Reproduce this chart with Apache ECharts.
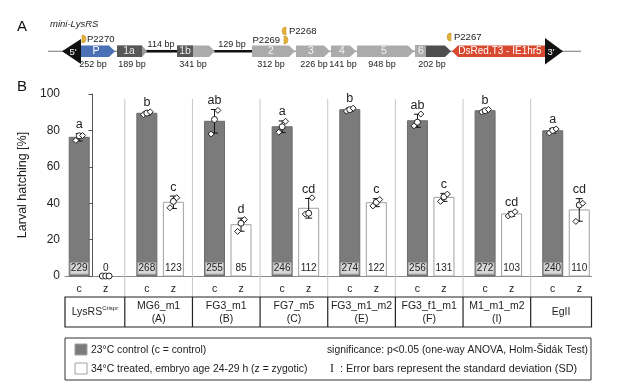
<!DOCTYPE html>
<html><head><meta charset="utf-8">
<script src="https://cdn.jsdelivr.net/npm/echarts@6/dist/echarts.min.js"></script>
<style>html,body{margin:0;padding:0;background:#fff}#c{width:624px;height:389px}</style>
</head><body><div id="c"></div>
<script>
// ---------------- data ----------------
const groups = ['LysRS', 'MG6_m1', 'FG3_m1', 'FG7_m5', 'FG3_m1_m2', 'FG3_f1_m1', 'M1_m1_m2', 'EgII'];
const groupSub = ['', '(A)', '(B)', '(C)', '(E)', '(F)', '(I)', ''];
const controlMean = [76.2, 89.4, 85.0, 82.0, 91.4, 85.3, 90.8, 79.8];
const controlSD   = [2.0, 1.0, 6.5, 3.2, 1.0, 3.6, 0.8, 1.3];
const zygoticMean = [0, 40.5, 28.2, 37.2, 40.3, 43.2, 34.1, 36.3];
const zygoticSD   = [0, 3.4, 3.6, 5.4, 2.2, 2.2, 1.3, 6.2];
const controlPoints = [[74.5, 77, 77.2], [88.6, 89.5, 90.2], [78, 86, 91], [79, 82, 85], [90.6, 91.4, 92.2], [82.5, 84.5, 89], [90.1, 90.8, 91.5], [78.6, 80, 80.8]];
const zygoticPoints = [[0, 0, 0], [37.5, 41, 43], [24.5, 29, 31], [34, 34.5, 43], [38.5, 40.5, 42], [41, 43.5, 45], [33, 34, 35.3], [30, 39, 40]];
const controlLetters = ['a', 'b', 'ab', 'a', 'b', 'ab', 'b', 'a'];
const zygoticLetters = ['', 'c', 'd', 'cd', 'c', 'c', 'cd', 'cd'];
const controlN = [229, 268, 255, 246, 274, 256, 272, 240];
const zygoticN = [0, 123, 85, 112, 122, 131, 103, 110];
const yTicks = [0, 20, 40, 60, 80, 100];
const rowLabels = ['c', 'z'];
const legendLabels = ['23°C control (c = control)', '34°C treated, embryo age 24-29 h (z = zygotic)'];

// ---------------- layout ----------------
const FONT = '"Liberation Sans", Arial, sans-serif';
const OFF = 0.196, JIT = 0.05, SEP = 0.522;
const XMIN = -0.406, XMAX = 7.377;
const symbols = ['diamond', 'circle', 'diamond'];

function txt(text, x, y, size, opt) {
  opt = opt || {};
  return { type: 'text', z: opt.z || 10, style: Object.assign({
    text: text, x: x, y: y, font: (opt.italic ? 'italic ' : '') + size + 'px ' + FONT,
    fill: opt.fill || '#222', textAlign: opt.align || 'left', align: opt.align || 'left',
    textVerticalAlign: 'middle', verticalAlign: 'middle'
  }, opt.extra || {}) };
}

function barSeries(name, means, ns, kind) {
  return {
    type: 'custom', name: name, clip: false, z: 3,
    data: means.map((m, i) => [i + (kind === 'c' ? -OFF : OFF), m, ns[i]]),
    renderItem(params, api) {
      const x = api.value(0), v = api.value(1), n = api.value(2);
      const b = api.coord([x, 0]), t = api.coord([x, v]);
      const w = 20, ch = [];
      if (v > 0) ch.push({ type: 'rect', shape: { x: b[0] - w / 2, y: t[1], width: w, height: b[1] - t[1] },
        style: { fill: kind === 'c' ? '#7b7b7b' : '#fff', stroke: kind === 'c' ? '#6c6c6c' : '#a0a0a0', lineWidth: 1 } });
      if (kind === 'c') ch.push({ type: 'rect', shape: { x: b[0] - 9, y: b[1] - 13.3, width: 18, height: 11.5 },
        style: { fill: '#d7d7d7', stroke: '#a5a5a5', lineWidth: 0.8 } });
      ch.push({ type: 'text', style: { text: String(n), x: b[0], y: b[1] - 7.3, font: '10px ' + FONT, fill: '#222',
        textAlign: 'center', align: 'center', textVerticalAlign: 'middle', verticalAlign: 'middle' } });
      return { type: 'group', children: ch };
    }
  };
}

function errSeries(means, sds, letters, kind) {
  return {
    type: 'custom', clip: false, z: 5,
    data: means.map((m, i) => [i + (kind === 'c' ? -OFF : OFF), m, sds[i], i]),
    renderItem(params, api) {
      const x = api.value(0), m = api.value(1), sd = api.value(2), i = api.value(3);
      const ch = [];
      if (sd <= 0) return { type: 'group', children: ch };
      const hi = api.coord([x, m + sd]), lo = api.coord([x, m - sd]);
      const st = { stroke: '#111', lineWidth: 1 };
      ch.push({ type: 'line', shape: { x1: hi[0], y1: hi[1], x2: lo[0], y2: lo[1] }, style: st });
      ch.push({ type: 'line', shape: { x1: hi[0] - 3.5, y1: hi[1], x2: hi[0] + 3.5, y2: hi[1] }, style: st });
      ch.push({ type: 'line', shape: { x1: lo[0] - 3.5, y1: lo[1], x2: lo[0] + 3.5, y2: lo[1] }, style: st });
      ch.push({ type: 'text', style: { text: letters[i], x: hi[0], y: hi[1] - 9, font: '12.5px ' + FONT, fill: '#222',
        textAlign: 'center', align: 'center', textVerticalAlign: 'middle', verticalAlign: 'middle' } });
      return { type: 'group', children: ch };
    }
  };
}

function pointSeries(points, kind) {
  const data = [];
  points.forEach((arr, i) => arr.forEach((v, r) => {
    data.push({ value: [i + (kind === 'c' ? -OFF : OFF) + (r - 1) * JIT, v], symbol: (i === 0 && kind === 'z') ? 'circle' : symbols[r] });
  }));
  return { type: 'scatter', data: data, symbolSize: 6, z: 6, silent: true,
    itemStyle: { color: '#fff', borderColor: '#222', borderWidth: 1, opacity: 1 } };
}

const tableSeries = {
  type: 'custom', clip: false, z: 1, silent: true, data: [[0, 0]],
  renderItem(params, api) {
    const y0 = api.coord([0, 0])[1];
    const yTop = api.coord([0, 97.3])[1];
    const xs = [XMIN];
    for (let k = 1; k < groups.length; k++) xs.push(k - SEP);
    xs.push(XMAX);
    const px = xs.map(x => api.coord([x, 0])[0]);
    const ch = [];
    const tTop = y0 + 21, tBot = y0 + 51;
    for (let k = 1; k < groups.length; k++) {
      ch.push({ type: 'line', shape: { x1: px[k], y1: yTop, x2: px[k], y2: tTop }, style: { stroke: '#c6c6c6', lineWidth: 1 } });
      ch.push({ type: 'line', shape: { x1: px[k], y1: tTop, x2: px[k], y2: tBot }, style: { stroke: '#222', lineWidth: 1.2 } });
    }
    ch.push({ type: 'rect', shape: { x: px[0], y: tTop, width: px[px.length - 1] - px[0], height: tBot - tTop },
      style: { fill: 'none', stroke: '#222', lineWidth: 1.2 } });
    groups.forEach((g, i) => {
      const cx = api.coord([i - OFF, 0])[0], zx = api.coord([i + OFF, 0])[0];
      ch.push(txt(rowLabels[0], cx, y0 + 13, 10.5, { align: 'center' }));
      ch.push(txt(rowLabels[1], zx, y0 + 13, 10.5, { align: 'center' }));
      const mid = (px[i] + px[i + 1]) / 2;
      if (i === 0) {
        ch.push(txt('{n|LysRS}{s|Crispr}', mid, y0 + 36, 10.5, { align: 'center', extra: {
          rich: { n: { fontSize: 10.5, fontFamily: FONT, fill: '#222', lineHeight: 14 },
                  s: { fontSize: 6, fontFamily: FONT, fill: '#222', verticalAlign: 'top', lineHeight: 14, padding: [0, 0, 6, 0] } } } }));
      } else if (groupSub[i]) {
        ch.push(txt(g, mid, y0 + 30, 10.5, { align: 'center' }));
        ch.push(txt(groupSub[i], mid, y0 + 43, 10.5, { align: 'center' }));
      } else {
        ch.push(txt(g, mid, y0 + 36, 10.5, { align: 'center' }));
      }
    });
    return { type: 'group', children: ch };
  }
};

// ---------------- part A schematic & legend (layout graphics) ----------------
function pent(x1, x2, fill, tip) {
  tip = tip || 6;
  return { type: 'polygon', z: 2, shape: { points: [[x1, 45.5], [x2 - tip, 45.5], [x2, 51.25], [x2 - tip, 57], [x1, 57]] }, style: { fill: fill } };
}
function rect(x, y, w, h, fill, stroke, z) {
  return { type: 'rect', z: z || 2, shape: { x: x, y: y, width: w, height: h }, style: { fill: fill, stroke: stroke || null, lineWidth: 1 } };
}
function primer(cx, cy, right) {
  return { type: 'sector', z: 3, shape: { cx: cx, cy: cy, r0: 0, r: 4,
    startAngle: right ? -Math.PI / 2 : Math.PI / 2, endAngle: right ? Math.PI / 2 : Math.PI * 1.5 },
    style: { fill: '#e3b23c', stroke: '#c8962a', lineWidth: 0.6 } };
}
const LG = '#ababab', DG = '#575757';
const graphics = [
  txt('A', 17, 27, 15, { fill: '#111' }),
  txt('B', 17, 87, 15, { fill: '#111' }),
  txt('mini-LysRS', 50, 24, 9.5, { italic: true }),
  { type: 'line', z: 1, shape: { x1: 48, y1: 51.25, x2: 581, y2: 51.25 }, style: { stroke: '#777', lineWidth: 1 } },
  { type: 'line', z: 1, shape: { x1: 146, y1: 51.25, x2: 178, y2: 51.25 }, style: { stroke: '#111', lineWidth: 2.6 } },
  { type: 'line', z: 1, shape: { x1: 214, y1: 51.25, x2: 253, y2: 51.25 }, style: { stroke: '#111', lineWidth: 2.6 } },
  { type: 'polygon', z: 2, shape: { points: [[62, 51.25], [81, 39], [81, 64]] }, style: { fill: '#111' } },
  { type: 'polygon', z: 2, shape: { points: [[545, 38], [545, 64.5], [563, 51.25]] }, style: { fill: '#111' } },
  txt("5'", 73, 52, 9.5, { fill: '#fff', align: 'center' }),
  txt("3'", 551, 52, 9.5, { fill: '#fff', align: 'center' }),
  pent(81, 115, '#4a70b5'), txt('P', 96, 51.5, 10.5, { fill: '#fff', align: 'center' }),
  pent(117, 147, '#9a9a9a', 5), rect(117, 45.5, 25, 11.5, DG), txt('1a', 129, 51.5, 10.5, { fill: '#e8e8e8', align: 'center' }),
  pent(177, 215, LG), rect(177, 45.5, 16, 11.5, DG), txt('1b', 185, 51.5, 10.5, { fill: '#e8e8e8', align: 'center' }),
  pent(252, 295, LG), txt('2', 271, 51.5, 10.5, { fill: '#f4f4f4', align: 'center' }),
  pent(296, 330, LG), txt('3', 311, 51.5, 10.5, { fill: '#f4f4f4', align: 'center' }),
  pent(331, 356, LG), txt('4', 342, 51.5, 10.5, { fill: '#f4f4f4', align: 'center' }),
  pent(357, 414, LG), txt('5', 384, 51.5, 10.5, { fill: '#f4f4f4', align: 'center' }),
  pent(415, 451, '#4e4e4e'), rect(415, 45.5, 11, 11.5, LG), txt('6', 421, 51.5, 10.5, { fill: '#f4f4f4', align: 'center' }),
  { type: 'polygon', z: 2, shape: { points: [[452, 51.25], [458, 45.5], [545, 45.5], [545, 57], [458, 57]] }, style: { fill: '#d8482f' } },
  txt('DsRed.T3 - IE1hr5', 500, 51.5, 10, { fill: '#fff', align: 'center' }),
  txt('114 bp', 161, 45, 9, { align: 'center' }),
  txt('129 bp', 232, 45, 9, { align: 'center' }),
  txt('252 bp', 93, 64.5, 9, { align: 'center' }),
  txt('189 bp', 132, 64.5, 9, { align: 'center' }),
  txt('341 bp', 193, 64.5, 9, { align: 'center' }),
  txt('312 bp', 271, 64.5, 9, { align: 'center' }),
  txt('226 bp', 314, 64.5, 9, { align: 'center' }),
  txt('141 bp', 343, 64.5, 9, { align: 'center' }),
  txt('948 bp', 382, 64.5, 9, { align: 'center' }),
  txt('202 bp', 432, 64.5, 9, { align: 'center' }),
  primer(82, 39, true), txt('P2270', 87, 39, 9.5),
  primer(284, 40, true), txt('P2269', 280, 40, 9.5, { align: 'right' }),
  primer(286, 31, false), txt('P2268', 289, 31, 9.5),
  primer(451, 37, false), txt('P2267', 454, 37, 9.5),
  // legend
  rect(65, 338, 526, 42, 'none', '#333', 2),
  rect(75, 344, 12, 11, '#7b7b7b', '#a0a0a0'),
  rect(75, 363, 12, 11, '#fff', '#a0a0a0'),
  txt(legendLabels[0], 91, 350, 10.4),
  txt(legendLabels[1], 91, 369, 10.4),
  txt('significance: p<0.05 (one-way ANOVA, Holm-Šidák Test)', 588, 350, 10.4, { align: 'right' }),
  txt('{i|I}  : Error bars represent the standard deviation (SD)', 330, 369, 10.8, { align: 'left', extra: {
    rich: { i: { fontFamily: '"Liberation Serif", serif', fontSize: 12, fill: '#222' } } } })
];

// ---------------- chart ----------------
const chart = echarts.init(document.getElementById('c'));
chart.setOption({
  animation: false,
  textStyle: { fontFamily: FONT },
  grid: { left: 65, right: 32.5, top: 94, bottom: 113, containLabel: false },
  xAxis: { type: 'value', min: XMIN, max: XMAX, axisLine: { show: true, lineStyle: { color: '#8a8a8a', width: 1 } },
    axisTick: { show: false }, axisLabel: { show: false }, splitLine: { show: false } },
  yAxis: { type: 'value', min: yTicks[0], max: yTicks[yTicks.length - 1], interval: yTicks[1] - yTicks[0],
    name: 'Larval hatching [%]', nameLocation: 'middle', nameGap: 32, nameRotate: 90,
    nameTextStyle: { fontSize: 12.5, color: '#222', fontFamily: FONT },
    axisLine: { show: true, lineStyle: { color: '#555', width: 1 } },
    axisTick: { show: true, length: 4, lineStyle: { color: '#555' } },
    axisLabel: { fontSize: 12, color: '#222', margin: 5, fontFamily: FONT },
    splitLine: { show: false } },
  graphic: { elements: graphics },
  series: [
    tableSeries,
    barSeries('23°C control', controlMean, controlN, 'c'),
    barSeries('34°C treated', zygoticMean, zygoticN, 'z'),
    errSeries(controlMean, controlSD, controlLetters, 'c'),
    errSeries(zygoticMean, zygoticSD, zygoticLetters, 'z'),
    pointSeries(controlPoints, 'c'),
    pointSeries(zygoticPoints, 'z')
  ]
});
</script></body></html>
